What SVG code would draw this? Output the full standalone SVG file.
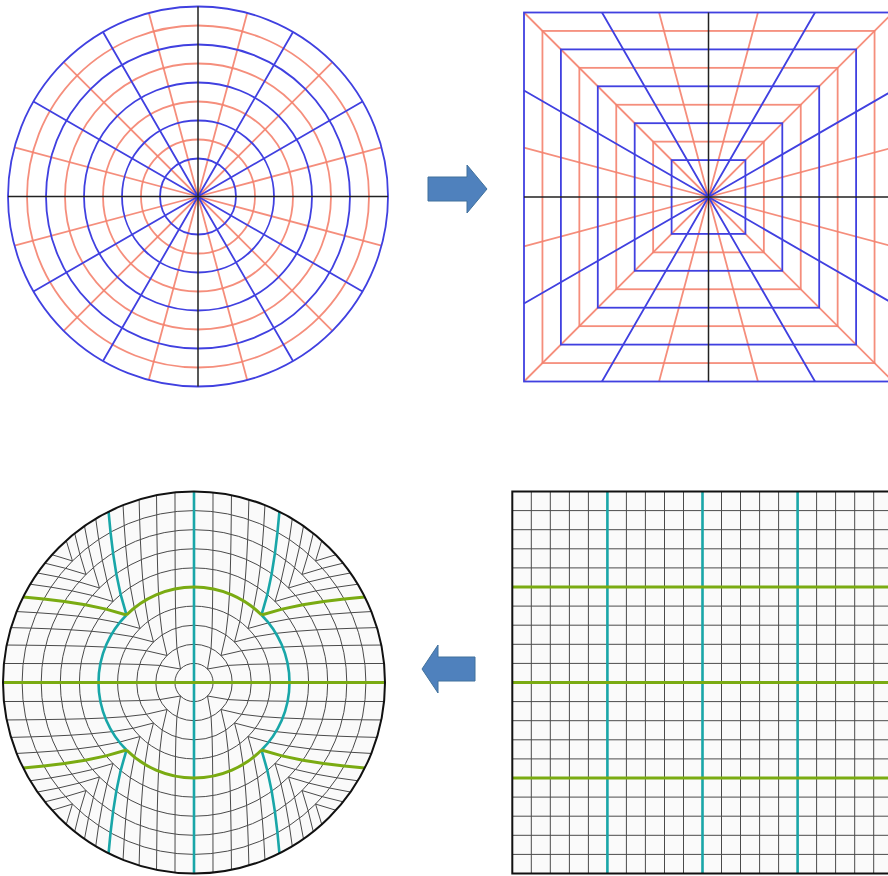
<svg xmlns="http://www.w3.org/2000/svg" xmlns:xlink="http://www.w3.org/1999/xlink" width="888" height="876" viewBox="0 0 888 876">
<style>
.red{fill:none;stroke:#f4826e;stroke-width:1.8;stroke-opacity:0.9}
.blue{fill:none;stroke:#4040e0;stroke-width:1.8}
.axis{fill:none;stroke:#222;stroke-width:1.5}
.gray{fill:none;stroke:#4a4a4a;stroke-width:1}
.teal{fill:none;stroke:#19a6a8;stroke-width:2.6}
.green{fill:none;stroke:#7aab12;stroke-width:3}
.bg{fill:#fafafa}
.border{fill:none;stroke:#111;stroke-width:2}
.arrow{fill:#4f81bd;stroke:#41719c;stroke-width:1}
</style>
<defs>
<g id="oct">
<polyline points="13.51,-13.51 17.08,-34.17 18.12,-54.36 18.53,-74.12 18.73,-93.65 18.84,-113.04 18.91,-132.36 18.95,-151.62 18.98,-170.85 19.01,-190.05"/>
<polyline points="27.01,-27.01 31.78,-47.68 34.17,-68.33 35.47,-88.67 36.24,-108.72 36.73,-128.56 37.06,-148.24 37.29,-167.81 37.46,-187.29"/>
<polyline points="40.52,-40.52 45.84,-61.12 49.13,-81.89 51.25,-102.5 52.67,-122.89 53.65,-143.07 54.36,-163.08 54.88,-182.94"/>
<polyline points="54.02,-54.02 59.66,-74.57 63.57,-95.35 66.33,-116.08 68.33,-136.67 69.81,-157.08 70.94,-177.34"/>
<polyline points="81.03,-81.03 87.01,-101.51 91.68,-122.24 95.35,-143.03 98.27,-163.78"/>
<polyline points="94.54,-94.54 100.62,-114.99 105.54,-135.69 109.53,-156.47"/>
<polyline points="108.05,-108.05 114.2,-128.48 119.32,-149.15"/>
<polyline points="121.55,-121.55 127.77,-141.97"/>
</g>
<polyline id="oct5" points="67.53,-67.53 73.37,-88.04 77.71,-108.8 80.98,-129.57 83.48,-150.27 85.42,-170.84"/>
</defs>

<g id="polar-grid" transform="translate(198,196.5)">
<circle cx="0" cy="0" r="190" fill="#fff"/>
<g class="red">
<circle r="57"/><circle r="95"/><circle r="133"/><circle r="171"/>
<path d="M0 0L183.53 -49.18M0 0L183.53 49.18M0 0L-183.53 -49.18M0 0L-183.53 49.18M0 0L49.18 -183.53M0 0L-49.18 -183.53M0 0L49.18 183.53M0 0L-49.18 183.53M0 0L134.35 -134.35M0 0L-134.35 -134.35M0 0L134.35 134.35M0 0L-134.35 134.35"/>
</g>
<g class="blue">
<circle r="38"/><circle r="76"/><circle r="114"/><circle r="152"/><circle r="190"/>
<path d="M0 0L164.54 -95M0 0L164.54 95M0 0L-164.54 -95M0 0L-164.54 95M0 0L95 -164.54M0 0L-95 -164.54M0 0L95 164.54M0 0L-95 164.54"/>
</g>
<path class="axis" d="M-190 0H190M0 -190V190"/>
</g>

<g id="square-grid" transform="translate(708.5,197)">
<rect x="-184.5" y="-184.5" width="369" height="369" fill="#fff"/>
<g class="red">
<rect x="-55.35" y="-55.35" width="110.7" height="110.7"/>
<rect x="-92.25" y="-92.25" width="184.5" height="184.5"/>
<rect x="-129.15" y="-129.15" width="258.3" height="258.3"/>
<rect x="-166.05" y="-166.05" width="332.1" height="332.1"/>
<path d="M0 0L184.5 -49.44M0 0L184.5 49.44M0 0L-184.5 -49.44M0 0L-184.5 49.44M0 0L49.44 -184.5M0 0L-49.44 -184.5M0 0L49.44 184.5M0 0L-49.44 184.5M0 0L184.5 -184.5M0 0L-184.5 -184.5M0 0L184.5 184.5M0 0L-184.5 184.5"/>
</g>
<g class="blue">
<rect x="-36.9" y="-36.9" width="73.8" height="73.8"/>
<rect x="-73.8" y="-73.8" width="147.6" height="147.6"/>
<rect x="-110.7" y="-110.7" width="221.4" height="221.4"/>
<rect x="-147.6" y="-147.6" width="295.2" height="295.2"/>
<rect x="-184.5" y="-184.5" width="369" height="369"/>
<path d="M0 0L184.5 -106.52M0 0L184.5 106.52M0 0L-184.5 -106.52M0 0L-184.5 106.52M0 0L106.52 -184.5M0 0L-106.52 -184.5M0 0L106.52 184.5M0 0L-106.52 184.5"/>
</g>
<path class="axis" d="M-184.5 0H184.5M0 -184.5V184.5"/>
</g>

<g id="disk-mesh" transform="translate(194,682.5)">
<circle class="bg" r="191"/>
<g class="gray">
<circle r="19.1"/><circle r="38.2"/><circle r="57.3"/><circle r="76.4"/><circle r="114.6"/><circle r="133.7"/><circle r="152.8"/><circle r="171.9"/>
<use xlink:href="#oct"/>
<use xlink:href="#oct" transform="scale(-1,1)"/>
<use xlink:href="#oct" transform="scale(1,-1)"/>
<use xlink:href="#oct" transform="scale(-1,-1)"/>
<use xlink:href="#oct" transform="matrix(0,1,1,0,0,0)"/>
<use xlink:href="#oct" transform="matrix(0,-1,1,0,0,0)"/>
<use xlink:href="#oct" transform="matrix(0,1,-1,0,0,0)"/>
<use xlink:href="#oct" transform="matrix(0,-1,-1,0,0,0)"/>
</g>
<g class="teal">
<path d="M0 -191V191M67.53 -67.53A95.5 95.5 0 0 1 67.53 67.53M-67.53 67.53A95.5 95.5 0 0 1 -67.53 -67.53"/>
<use xlink:href="#oct5"/>
<use xlink:href="#oct5" transform="scale(-1,1)"/>
<use xlink:href="#oct5" transform="scale(1,-1)"/>
<use xlink:href="#oct5" transform="scale(-1,-1)"/>
</g>
<g class="green">
<path d="M-191 0H191M-67.53 -67.53A95.5 95.5 0 0 1 67.53 -67.53M67.53 67.53A95.5 95.5 0 0 1 -67.53 67.53"/>
<use xlink:href="#oct5" transform="matrix(0,1,1,0,0,0)"/>
<use xlink:href="#oct5" transform="matrix(0,-1,1,0,0,0)"/>
<use xlink:href="#oct5" transform="matrix(0,1,-1,0,0,0)"/>
<use xlink:href="#oct5" transform="matrix(0,-1,-1,0,0,0)"/>
</g>
<circle class="border" r="191"/>
</g>

<g id="rect-mesh">
<rect class="bg" x="512.3" y="491.5" width="381" height="382"/>
<path class="gray" d="M531.3 491.5V873.5M550.3 491.5V873.5M569.4 491.5V873.5M588.4 491.5V873.5M626.4 491.5V873.5M645.4 491.5V873.5M664.5 491.5V873.5M683.5 491.5V873.5M721.5 491.5V873.5M740.5 491.5V873.5M759.6 491.5V873.5M778.6 491.5V873.5M816.6 491.5V873.5M835.6 491.5V873.5M854.7 491.5V873.5M873.7 491.5V873.5
M512.3 510.6H893.3M512.3 529.7H893.3M512.3 548.8H893.3M512.3 567.9H893.3M512.3 606.1H893.3M512.3 625.2H893.3M512.3 644.3H893.3M512.3 663.4H893.3M512.3 701.6H893.3M512.3 720.7H893.3M512.3 739.8H893.3M512.3 758.9H893.3M512.3 797.1H893.3M512.3 816.2H893.3M512.3 835.3H893.3M512.3 854.4H893.3"/>
<path class="teal" d="M607.4 491.5V873.5M702.5 491.5V873.5M797.6 491.5V873.5"/>
<path class="green" d="M512.3 587H893.3M512.3 682.5H893.3M512.3 778H893.3"/>
<rect class="border" x="512.3" y="491.5" width="381" height="382"/>
</g>

<g id="arrows">
<polygon class="arrow" points="428,177 467,177 467,165 487,189 467,213 467,201 428,201"/>
<polygon class="arrow" points="422,669 438,645 438,657 475,657 475,681 438,681 438,693"/>
</g>
</svg>
